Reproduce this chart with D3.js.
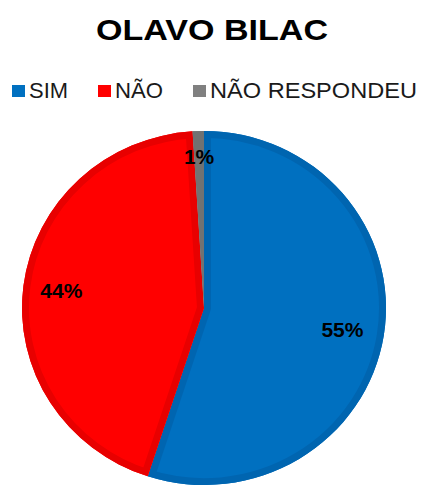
<!DOCTYPE html>
<html>
<head>
<meta charset="utf-8">
<script src="https://cdn.jsdelivr.net/npm/d3@7"></script>
<style>
  html, body { margin: 0; padding: 0; background: #fff; }
  svg { display: block; }
</style>
</head>
<body>
<svg id="chart" width="425" height="487"></svg>
<script>
// Survey answers
const categories = ["SIM", "NÃO", "NÃO RESPONDEU"];
const values = [55, 44, 1];
const labels = ["55%", "44%", "1%"];
const fillColors = ["#0070C0", "#FF0000", "#808080"];
const edgeColors = ["#0065B0", "#E80000", "#727272"];

const svg = d3.select("#chart");

// Title
svg.append("text")
  .attr("x", 212).attr("y", 40)
  .attr("text-anchor", "middle")
  .attr("font-family", "Liberation Sans, Arial, sans-serif")
  .attr("font-weight", "bold")
  .attr("font-size", 30)
  .attr("textLength", 232)
  .attr("lengthAdjust", "spacingAndGlyphs")
  .attr("fill", "#000")
  .text("OLAVO BILAC");

// Legend
const legendItems = [
  { x: 12, w: 39, text: categories[0] },
  { x: 98, w: 48, text: categories[1] },
  { x: 193, w: 207, text: categories[2] }
];
const legend = svg.append("g");
legendItems.forEach((d, i) => {
  legend.append("rect")
    .attr("x", d.x).attr("y", 85)
    .attr("width", 13).attr("height", 12)
    .attr("fill", fillColors[i]);
  legend.append("text")
    .attr("x", d.x + 17).attr("y", 98)
    .attr("font-family", "Liberation Sans, Arial, sans-serif")
    .attr("font-size", 22)
    .attr("textLength", d.w)
    .attr("lengthAdjust", "spacingAndGlyphs")
    .attr("fill", "#1a1a1a")
    .text(d.text);
});

// Pie
const cx = 204, cy = 308, rx = 182, ry = 177;
const pie = d3.pie().sort(null).value(d => d)(values);
const arc = d3.arc().innerRadius(0).outerRadius(rx);

const defs = svg.append("defs");
const pieG = svg.append("g")
  .attr("transform", `translate(${cx},${cy}) scale(1,${ry / rx})`);

pie.forEach((p, i) => {
  const path = arc(p);
  defs.append("clipPath").attr("id", "slice" + i)
    .append("path").attr("d", path);
  pieG.append("path")
    .attr("d", path)
    .attr("fill", fillColors[i]);
  // inner edge band
  pieG.append("path")
    .attr("d", path)
    .attr("fill", "none")
    .attr("stroke", edgeColors[i])
    .attr("stroke-width", 14)
    .attr("clip-path", `url(#slice${i})`);
});

// Data labels
const labelRatio = [0.77, 0.79, 0.86];
pie.forEach((p, i) => {
  const a = (p.startAngle + p.endAngle) / 2;
  const lx = cx + Math.sin(a) * rx * labelRatio[i];
  const ly = cy - Math.cos(a) * ry * labelRatio[i];
  svg.append("text")
    .attr("x", lx).attr("y", ly + 8)
    .attr("text-anchor", "middle")
    .attr("font-family", "Liberation Sans, Arial, sans-serif")
    .attr("font-weight", "bold")
    .attr("font-size", 21)
    .attr("fill", "#000")
    .text(labels[i]);
});
</script>
</body>
</html>
